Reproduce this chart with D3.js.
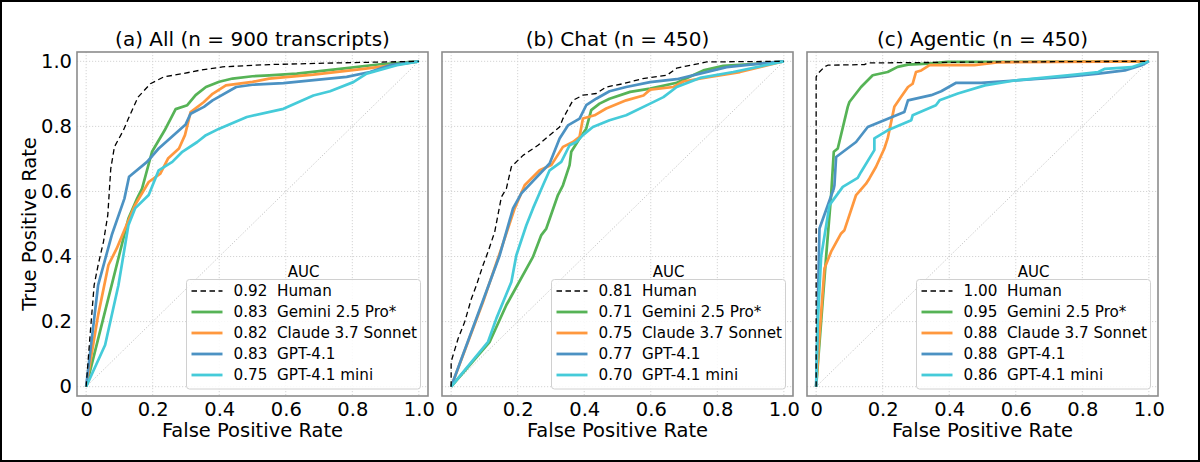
<!DOCTYPE html>
<html>
<head>
<meta charset="utf-8">
<script src="https://cdn.jsdelivr.net/npm/d3@7"></script>
<style>
  body { margin: 0; background: #fff; }
  svg { display: block; font-family: "DejaVu Sans", sans-serif; }
</style>
</head>
<body>
<script>
// ROC points [fpr, tpr]
const allHuman = [[0,0],[0.011,0.148],[0.024,0.312],[0.036,0.374],[0.052,0.445],[0.065,0.527],[0.074,0.670],[0.085,0.737],[0.112,0.788],[0.127,0.824],[0.156,0.890],[0.193,0.931],[0.233,0.952],[0.289,0.962],[0.339,0.972],[0.41,0.983],[0.55,0.99],[0.75,0.995],[1,1]];
const allGemini = [[0,0],[0.127,0.517],[0.153,0.578],[0.168,0.609],[0.198,0.722],[0.236,0.788],[0.269,0.853],[0.304,0.865],[0.329,0.896],[0.36,0.921],[0.40,0.937],[0.44,0.947],[0.50,0.954],[0.55,0.957],[0.633,0.962],[0.763,0.977],[0.884,0.991],[1,1]];
const allClaude = [[0,0],[0.036,0.22],[0.067,0.374],[0.092,0.425],[0.117,0.486],[0.147,0.558],[0.188,0.629],[0.223,0.655],[0.246,0.701],[0.279,0.732],[0.297,0.773],[0.314,0.844],[0.354,0.875],[0.38,0.90],[0.42,0.926],[0.50,0.937],[0.55,0.947],[0.683,0.959],[0.834,0.977],[0.934,0.99],[1,1]];
const allGpt41 = [[0,0],[0.036,0.312],[0.077,0.466],[0.115,0.578],[0.129,0.645],[0.183,0.691],[0.218,0.732],[0.299,0.806],[0.314,0.839],[0.354,0.86],[0.38,0.88],[0.451,0.921],[0.50,0.928],[0.593,0.933],[0.783,0.952],[0.853,0.967],[0.913,0.988],[1,1]];
const allGpt41Mini = [[0,0],[0.057,0.128],[0.097,0.312],[0.127,0.496],[0.147,0.548],[0.188,0.589],[0.218,0.665],[0.259,0.691],[0.289,0.722],[0.334,0.752],[0.36,0.773],[0.40,0.793],[0.483,0.829],[0.593,0.854],[0.683,0.895],[0.733,0.908],[0.803,0.936],[0.843,0.962],[0.934,0.988],[1,1]];

const chatHuman = [[0,0],[0,0.077],[0.021,0.148],[0.041,0.2],[0.061,0.271],[0.076,0.312],[0.096,0.374],[0.111,0.415],[0.131,0.476],[0.151,0.583],[0.166,0.609],[0.181,0.676],[0.216,0.711],[0.261,0.742],[0.296,0.773],[0.326,0.798],[0.336,0.824],[0.366,0.880],[0.396,0.896],[0.436,0.901],[0.466,0.921],[0.516,0.931],[0.576,0.947],[0.648,0.957],[0.678,0.979],[0.768,0.998],[1,1]];
const chatGemini = [[0,0],[0.116,0.138],[0.166,0.251],[0.246,0.399],[0.271,0.466],[0.286,0.486],[0.321,0.589],[0.336,0.619],[0.356,0.681],[0.361,0.722],[0.386,0.763],[0.406,0.793],[0.421,0.85],[0.446,0.870],[0.476,0.885],[0.538,0.906],[0.598,0.916],[0.678,0.934],[0.758,0.972],[0.818,0.986],[0.928,0.993],[1,1]];
const chatClaude = [[0,0],[0.096,0.261],[0.151,0.425],[0.191,0.548],[0.221,0.619],[0.266,0.665],[0.301,0.681],[0.336,0.737],[0.366,0.752],[0.386,0.768],[0.396,0.824],[0.431,0.834],[0.466,0.855],[0.526,0.880],[0.578,0.895],[0.598,0.913],[0.668,0.921],[0.698,0.938],[0.778,0.952],[0.868,0.967],[1,1]];
const chatGpt41 = [[0,0],[0.146,0.404],[0.186,0.548],[0.211,0.594],[0.296,0.686],[0.326,0.763],[0.351,0.803],[0.386,0.824],[0.406,0.865],[0.436,0.885],[0.476,0.908],[0.526,0.921],[0.598,0.936],[0.678,0.945],[0.748,0.962],[0.828,0.982],[0.928,0.993],[1,1]];
const chatGpt41Mini = [[0,0],[0.111,0.138],[0.136,0.210],[0.181,0.322],[0.196,0.404],[0.226,0.496],[0.246,0.548],[0.276,0.619],[0.296,0.665],[0.331,0.691],[0.356,0.742],[0.376,0.752],[0.396,0.773],[0.426,0.798],[0.476,0.819],[0.526,0.834],[0.598,0.870],[0.638,0.890],[0.678,0.921],[0.748,0.949],[0.848,0.967],[1,1]];

const agentHuman = [[0,0],[0,0.952],[0.005,0.962],[0.025,0.983],[0.035,0.988],[0.145,0.99],[0.155,0.995],[0.55,0.998],[1,1]];
const agentGemini = [[0,0],[0.015,0.2],[0.03,0.4],[0.045,0.589],[0.053,0.722],[0.065,0.732],[0.095,0.86],[0.1,0.875],[0.135,0.921],[0.17,0.957],[0.215,0.967],[0.245,0.983],[0.276,0.99],[0.336,0.993],[0.396,0.998],[1,1]];
const agentClaude = [[0,0],[0.01,0.159],[0.025,0.363],[0.045,0.415],[0.075,0.471],[0.085,0.481],[0.12,0.589],[0.15,0.624],[0.16,0.64],[0.18,0.676],[0.205,0.732],[0.215,0.763],[0.235,0.86],[0.255,0.89],[0.276,0.921],[0.29,0.931],[0.3,0.967],[0.316,0.972],[0.341,0.988],[0.476,0.988],[0.55,0.997],[1,1]];
const agentGpt41 = [[0,0],[0.01,0.486],[0.053,0.609],[0.055,0.619],[0.06,0.706],[0.12,0.752],[0.155,0.798],[0.265,0.844],[0.276,0.88],[0.346,0.896],[0.376,0.908],[0.421,0.934],[0.496,0.934],[0.597,0.941],[0.748,0.952],[0.848,0.962],[0.928,0.972],[0.978,0.988],[1,1]];
const agentGpt41Mini = [[0,0],[0.005,0.2],[0.015,0.4],[0.04,0.558],[0.08,0.614],[0.125,0.642],[0.135,0.66],[0.175,0.727],[0.175,0.763],[0.215,0.788],[0.286,0.819],[0.29,0.834],[0.36,0.865],[0.371,0.88],[0.426,0.901],[0.507,0.926],[0.597,0.941],[0.778,0.959],[0.848,0.967],[0.868,0.977],[0.948,0.982],[1,1]];

const models = ['Human', 'Gemini 2.5 Pro*', 'Claude 3.7 Sonnet', 'GPT-4.1', 'GPT-4.1 mini'];
const colors = ['#000000', '#56b356', '#ff983e', '#4c92c3', '#45cbd9'];
const panelTitles = ['(a) All (n = 900 transcripts)', '(b) Chat (n = 450)', '(c) Agentic (n = 450)'];
const aucAll = ['0.92', '0.83', '0.82', '0.83', '0.75'];
const aucChat = ['0.81', '0.71', '0.75', '0.77', '0.70'];
const aucAgentic = ['1.00', '0.95', '0.88', '0.88', '0.86'];
const tickValues = [0, 0.2, 0.4, 0.6, 0.8, 1.0];
const tickLabels = ['0', '0.2', '0.4', '0.6', '0.8', '1.0'];

const panels = [
  { title: panelTitles[0], curves: [allHuman, allGemini, allClaude, allGpt41, allGpt41Mini], auc: aucAll },
  { title: panelTitles[1], curves: [chatHuman, chatGemini, chatClaude, chatGpt41, chatGpt41Mini], auc: aucChat },
  { title: panelTitles[2], curves: [agentHuman, agentGemini, agentClaude, agentGpt41, agentGpt41Mini], auc: aucAgentic }
];

const width = 1200;
const height = 462;
const axLeft = [77, 442, 807];
const axTop = 52;
const axW = 351;
const axH = 344;

const svg = d3.select('body').append('svg')
  .attr('width', width)
  .attr('height', height);

svg.append('rect')
  .attr('width', width).attr('height', height)
  .attr('fill', '#fff');

const x = d3.scaleLinear().domain([-0.0275, 1.0275]).range([0, axW]);
const y = d3.scaleLinear().domain([-0.0286, 1.0286]).range([axH, 0]);

const line = d3.line().x(d => x(d[0])).y(d => y(d[1]));

panels.forEach((p, pi) => {
  const g = svg.append('g').attr('transform', `translate(${axLeft[pi]},${axTop})`);

  // grid
  g.append('g').selectAll('line.gx')
    .data(tickValues).enter().append('line')
    .attr('x1', d => x(d)).attr('x2', d => x(d))
    .attr('y1', 0).attr('y2', axH)
    .attr('stroke', '#d4d4d4').attr('stroke-width', 1).attr('stroke-dasharray', '1.2,1.8');
  g.append('g').selectAll('line.gy')
    .data(tickValues).enter().append('line')
    .attr('y1', d => y(d)).attr('y2', d => y(d))
    .attr('x1', 0).attr('x2', axW)
    .attr('stroke', '#d4d4d4').attr('stroke-width', 1).attr('stroke-dasharray', '1.2,1.8');

  // chance diagonal
  g.append('path')
    .attr('d', line([[0, 0], [1, 1]]))
    .attr('fill', 'none')
    .attr('stroke', '#c4c4c4').attr('stroke-width', 1).attr('stroke-dasharray', '1.2,1.8');

  // model curves, human on top
  const order = [1, 2, 3, 4, 0];
  order.forEach(i => {
    g.append('path')
      .attr('d', line(p.curves[i]))
      .attr('fill', 'none')
      .attr('stroke', colors[i])
      .attr('stroke-width', i === 0 ? 1.3 : 2.7)
      .attr('stroke-dasharray', i === 0 ? '5.5,3.5' : null)
      .attr('stroke-linejoin', 'round');
  });

  // spines
  g.append('rect')
    .attr('width', axW).attr('height', axH)
    .attr('fill', 'none').attr('stroke', '#8c8c8c').attr('stroke-width', 1.6);

  // axes
  const xAxis = g.append('g')
    .attr('transform', `translate(0,${axH})`)
    .call(d3.axisBottom(x).tickValues(tickValues).tickSize(0).tickPadding(6)
      .tickFormat((d, i) => tickLabels[i]));
  xAxis.select('.domain').remove();
  xAxis.selectAll('text').attr('font-size', 19.5).attr('fill', '#000').attr('font-family', 'DejaVu Sans');

  if (pi === 0) {
    const yAxis = g.append('g')
      .call(d3.axisLeft(y).tickValues(tickValues).tickSize(0).tickPadding(5)
        .tickFormat((d, i) => tickLabels[i]));
    yAxis.select('.domain').remove();
    yAxis.selectAll('text').attr('font-size', 19.5).attr('fill', '#000').attr('font-family', 'DejaVu Sans');

    g.append('text')
      .attr('transform', `translate(${-41.5},${axH / 2}) rotate(-90)`)
      .attr('text-anchor', 'middle')
      .attr('font-size', 19.5)
      .text('True Positive Rate');
  }

  g.append('text')
    .attr('x', axW / 2).attr('y', axH + 40.5)
    .attr('text-anchor', 'middle')
    .attr('font-size', 19.5)
    .text('False Positive Rate');

  g.append('text')
    .attr('x', axW / 2).attr('y', -6)
    .attr('text-anchor', 'middle')
    .attr('font-size', 20)
    .text(p.title);

  // legend
  const lgW = 234, lgH = 109.5;
  const lg = g.append('g').attr('transform', `translate(${axW - 7.5 - lgW},${axH - 7 - lgH})`);
  lg.append('text')
    .attr('x', lgW / 2).attr('y', -3)
    .attr('text-anchor', 'middle')
    .attr('font-size', 15)
    .text('AUC');
  lg.append('rect')
    .attr('width', lgW).attr('height', lgH)
    .attr('rx', 3)
    .attr('fill', '#fff').attr('fill-opacity', 0.85)
    .attr('stroke', '#d0d0d0').attr('stroke-width', 1);
  models.forEach((m, i) => {
    const cy = 11.5 + i * 21;
    lg.append('line')
      .attr('x1', 5).attr('x2', 36)
      .attr('y1', cy).attr('y2', cy)
      .attr('stroke', colors[i])
      .attr('stroke-width', i === 0 ? 1.3 : 2.8)
      .attr('stroke-dasharray', i === 0 ? '5.5,3.5' : null);
    lg.append('text')
      .attr('x', 47).attr('y', cy).attr('dy', '0.36em')
      .attr('font-size', 15.2)
      .text(p.auc[i]);
    lg.append('text')
      .attr('x', 90.5).attr('y', cy).attr('dy', '0.36em')
      .attr('font-size', 15.2)
      .text(m);
  });
});

// outer frame
svg.append('rect')
  .attr('x', 1).attr('y', 1)
  .attr('width', width - 2).attr('height', height - 2)
  .attr('fill', 'none').attr('stroke', '#000').attr('stroke-width', 2);
</script>
</body>
</html>
